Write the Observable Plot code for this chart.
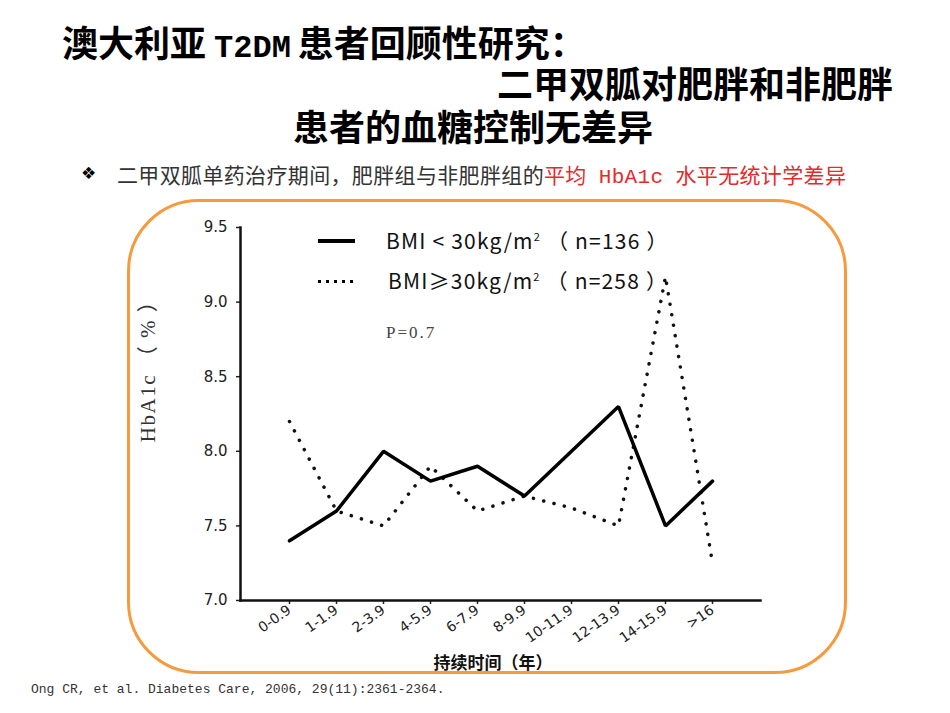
<!DOCTYPE html>
<html>
<head>
<meta charset="utf-8">
<script src="https://cdn.jsdelivr.net/npm/d3@7"></script>
<script src="https://cdn.jsdelivr.net/npm/@observablehq/plot@0.6"></script>
<style>
  html, body { margin: 0; padding: 0; background: #fff; }
  #page { position: relative; width: 950px; height: 713px; overflow: hidden; background: #fff; }
  #page > * { position: absolute; }
  .cjk { font-family: "Noto Sans CJK SC", sans-serif; }
  .title { font-family: "Noto Sans CJK SC", sans-serif; font-weight: 700; font-size: 36px; line-height: 36px; color: #000; white-space: nowrap; }
  .mono { font-family: "Liberation Mono", "Noto Sans CJK SC", monospace; }
  #sub { left: 117px; top: 162px; font-family: "Noto Sans CJK SC", sans-serif; font-size: 21px; letter-spacing: 0.35px; line-height: 24px; color: #333; white-space: nowrap; }
  #sub .red { color: #e32b2b; }
  #frameBox { left: 127px; top: 199px; width: 720px; height: 475px; border: 3px solid #f79a3e; border-radius: 72px; box-sizing: border-box; }
  .legtxt { font-family: "Noto Sans CJK SC", sans-serif; font-size: 21px; letter-spacing: 1.2px; line-height: 24px; color: #111; white-space: nowrap; }
  .legtxt sup { font-size: 11px; vertical-align: 8px; line-height: 0; }
</style>
</head>
<body>
<div id="page">
  <div id="frameBox"></div>
  <div id="chart" style="left:0;top:0"></div>

  <div class="title" style="left:62px; top:23px;">澳大利亚<span class="mono" style="font-size:32px; margin:0 7px 0 8px; font-weight:700;">T2DM</span>患者回顾性研究：</div>
  <div class="title" style="left:497px; top:64px;">二甲双胍对肥胖和非肥胖</div>
  <div class="title" style="left:293px; top:107px;">患者的血糖控制无差异</div>

  <div style="left:81px; top:161px; font-family:'DejaVu Sans'; font-size:17px; line-height:24px; color:#000;">❖</div>
  <div id="sub">二甲双胍单药治疗期间，肥胖组与非肥胖组的<span class="red">平均<span class="mono" style="margin:0 12px;">HbA1c</span>水平无统计学差异</span></div>

  <!-- legend -->
  <div style="left:318px; top:239px; width:37px; height:4px; background:#000;"></div>
  <div class="legtxt" style="left:386px; top:228px;">BMI &lt; 30kg/m<sup>2</sup> （ n=136 ）</div>
  <div style="left:318px; top:280px; width:37px; height:3px; background:repeating-linear-gradient(90deg,#000 0 3px,transparent 3px 8px);"></div>
  <div class="legtxt" style="left:388px; top:268px;">BMI≥30kg/m<sup>2</sup> （ n=258 ）</div>
  <div style="left:386px; top:322px; font-family:'Liberation Serif'; font-size:17px; letter-spacing:2px; line-height:22px; color:#444;">P=0.7</div>

  <!-- axis titles -->
  <div style="left:148px; top:366px; transform:translate(-50%,-50%) rotate(-90deg); font-family:'Liberation Serif','Noto Sans CJK SC'; font-size:21px; letter-spacing:1.5px; line-height:22px; color:#333; white-space:nowrap;">HbA1c （ % ）</div>
  <div class="cjk" style="left:493px; top:662px; transform:translate(-50%,-50%); font-size:17px; font-weight:700; line-height:20px; color:#111; white-space:nowrap;">持续时间（年）</div>

  <div class="mono" style="left:31px; top:682px; font-size:13px; line-height:16px; color:#333; white-space:nowrap;">Ong CR, et al. Diabetes Care, 2006, 29(11):2361-2364.</div>
</div>

<script>
// Duration groups (years since diagnosis)
const durations = ["0-0.9", "1-1.9", "2-3.9", "4-5.9", "6-7.9", "8-9.9", "10-11.9", "12-13.9", "14-15.9", ">16"];
// Mean HbA1c (%) for BMI < 30 kg/m2
const hba1cNonObese = [7.4, 7.6, 8.0, 7.8, 7.9, 7.7, 8.0, 8.3, 7.5, 7.8];
// Mean HbA1c (%) for BMI >= 30 kg/m2
const hba1cObese = [8.2, 7.6, 7.5, 7.9, 7.6, 7.7, 7.62, 7.5, 9.17, 7.25];
const yTicks = [7.0, 7.5, 8.0, 8.5, 9.0, 9.5];

const nonObese = durations.map((d, i) => ({duration: d, hba1c: hba1cNonObese[i]}));
const obese = durations.map((d, i) => ({duration: d, hba1c: hba1cObese[i]}));

const tickFont = "DejaVu Sans, Arial, sans-serif";

const chart = Plot.plot({
  width: 950,
  height: 713,
  marginLeft: 240,
  marginRight: 190,
  marginTop: 227,
  marginBottom: 113,
  style: {background: "transparent", overflow: "visible", fontSize: "15px", fontFamily: tickFont, color: "#222"},
  x: {type: "point", domain: durations, padding: 1},
  y: {domain: [7, 9.5]},
  marks: [
    Plot.axisY({ticks: yTicks, tickFormat: d3.format(".1f"), tickSize: 4, tickPadding: 9, label: null,
      fontSize: 15, fontFamily: tickFont, fill: "#222", strokeWidth: 1.5}),
    Plot.axisX({tickSize: 4, tickPadding: 4, tickRotate: -35, label: null,
      fontSize: 14, fontFamily: tickFont, fill: "#222", strokeWidth: 1.5}),
    Plot.frame({anchor: "left", stroke: "#111", strokeWidth: 2.5}),
    Plot.frame({anchor: "bottom", stroke: "#111", strokeWidth: 2.5}),
    Plot.line(obese, {x: "duration", y: "hba1c", stroke: "#111", strokeWidth: 3.5, strokeDasharray: "0.1,10.5", strokeLinecap: "round"}),
    Plot.line(nonObese, {x: "duration", y: "hba1c", stroke: "#000", strokeWidth: 3.5, strokeLinejoin: "miter"})
  ]
});
document.getElementById("chart").appendChild(chart);
</script>
</body>
</html>
